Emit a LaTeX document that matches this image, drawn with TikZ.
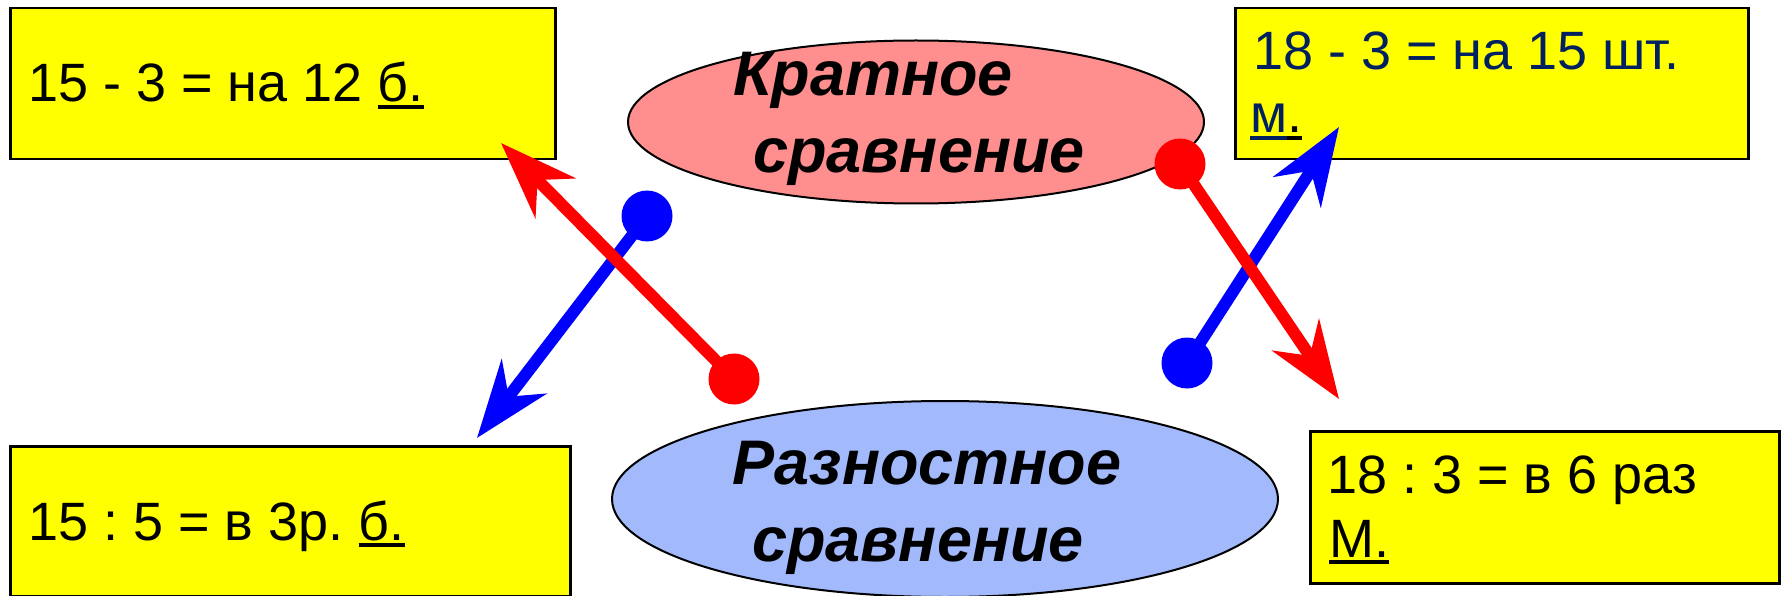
\documentclass[tikz,border=0pt]{standalone}
\usepackage{fontspec}
\setmainfont{Liberation Sans}
\usetikzlibrary{arrows.meta,shapes.geometric}
\definecolor{boxyellow}{RGB}{255,255,0}
\definecolor{pinkfill}{RGB}{255,143,143}
\definecolor{bluefill}{RGB}{162,185,252}
\definecolor{navytext}{RGB}{0,32,96}
\newcommand\myul[1]{\setbox0\hbox{#1}\rlap{\rule[-7pt]{\wd0}{4pt}}\box0}
\frenchspacing
\begin{document}
\begin{tikzpicture}[x=1pt,y=-1pt,
  box/.style={draw=black, line width=2.5pt, fill=boxyellow, anchor=north west, inner sep=0pt},
  boxtext/.style={anchor=base west, inner sep=0pt, font=\fontsize{54}{64}\selectfont},
  ovaltext/.style={anchor=base, inner sep=0pt, font=\fontsize{63}{75}\selectfont\bfseries\itshape},
  oval/.style={ellipse, draw=black, line width=2pt, inner sep=0pt},
  dot/.style={circle, inner sep=0pt, minimum size=51pt},
  reddot/.style={dot, fill=red},
  bluedot/.style={dot, fill=blue},
  arrowline/.style={line width=12pt, -{Stealth[length=77pt,width=56pt,inset=25pt]}},
  redarrow/.style={arrowline, draw=red},
  bluearrow/.style={arrowline, draw=blue}]
\useasboundingbox (0,0) rectangle (1785,596);
\clip (0,0) rectangle (1785,596);
\fill[white] (0,0) rectangle (1785,596);

% boxes
\node[box, minimum width=545pt, minimum height=151pt] (b1) at (9,7) {};
\node[box, minimum width=513pt, minimum height=151pt] (b2) at (1234,7) {};
\node[box, minimum width=560pt, minimum height=150pt] (b3) at (9,445) {};
\node[box, minimum width=469pt, minimum height=152pt] (b4) at (1309,430) {};

\node[boxtext] (t1) at (28,102) {15 - 3 = на 12 \myul{б.}};
\node[boxtext, text=navytext] (t2a) at (1253,70) {18 - 3 = на 15 шт.};
\node[boxtext] (t2b) at (1250,133) {{\color{navytext}\myul{м}}\myul{.}};
\node[boxtext] (t3) at (28,540) {15 : 5 = в 3р. \myul{б.}};
\node[boxtext] (t4a) at (1327,493) {18 : 3 = в 6 раз};
\node[boxtext] (t4b) at (1329,557) {\myul{М.}};

% ovals
\node[oval, fill=pinkfill, minimum width=576pt, minimum height=163pt] (o1) at (916,122) {};
\node[oval, fill=bluefill, minimum width=666pt, minimum height=196pt] (o2) at (945,499) {};
\node[ovaltext] (o1a) at (873,96) {Кратное};
\node[ovaltext] (o1b) at (919,173) {сравнение};
\node[ovaltext] (o2a) at (927,484) {Разностное};
\node[ovaltext] (o2b) at (918,561) {сравнение};

% arrows
\coordinate (tipBL) at (477,438);
\coordinate (tipRL) at (501,143);
\coordinate (tipRR) at (1339,399);
\coordinate (tipBR) at (1339,127);
\node[bluedot] (dBL) at (647,216) {};
\node[bluedot] (dBR) at (1187,363) {};
\draw[bluearrow] (dBL.center) -- (tipBL);
\draw[bluearrow] (dBR.center) -- (tipBR);
\node[reddot] (dRL) at (734,379) {};
\node[reddot] (dRR) at (1180,164) {};
\draw[redarrow] (dRL.center) -- (tipRL);
\draw[redarrow] (dRR.center) -- (tipRR);
\end{tikzpicture}
\end{document}
